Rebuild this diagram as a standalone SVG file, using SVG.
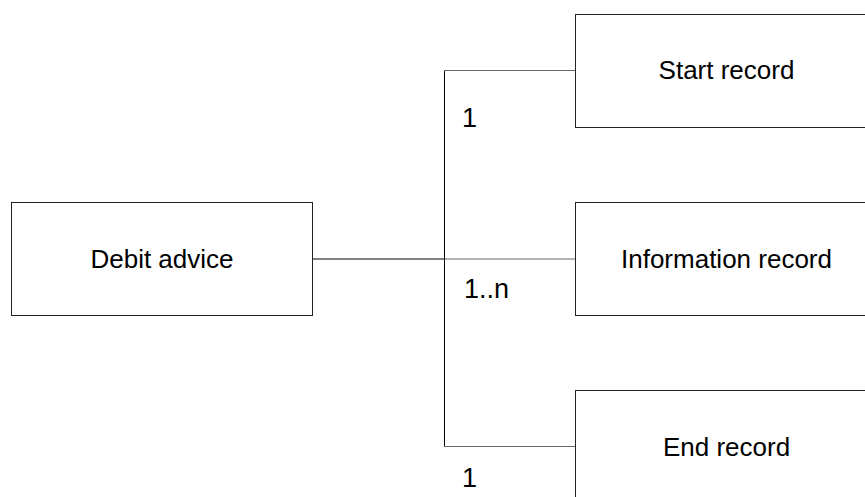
<svg xmlns="http://www.w3.org/2000/svg" width="865" height="497" viewBox="0 0 865 497">
<style>
.box{fill:#fff;stroke:#222;stroke-width:1}
.lbl{font-family:"Liberation Sans",Arial,sans-serif;font-size:26px;fill:#000;text-anchor:middle}
.mult{font-family:"Liberation Sans",Arial,sans-serif;font-size:27px;fill:#000}
.main{stroke:#000;stroke-width:1;fill:none}
.branch{stroke:#666;stroke-width:1;fill:none}
</style>
<rect width="865" height="497" fill="#fff"/>
<g id="connectors">
<line class="main" x1="312.5" y1="259" x2="444.5" y2="259"/>
<line class="main" x1="444.5" y1="70.5" x2="444.5" y2="446.5"/>
<line class="branch" x1="444.5" y1="259" x2="575.5" y2="259"/>
<line class="branch" x1="444.5" y1="70.5" x2="575.5" y2="70.5"/>
<line class="branch" x1="444.5" y1="446.5" x2="575.5" y2="446.5"/>
<text class="mult" x="462" y="126.5">1</text>
<text class="mult" x="464" y="298">1..n</text>
<text class="mult" x="462" y="487">1</text>
</g>
<g id="debit-advice">
<rect class="box" x="11.5" y="202.5" width="301" height="113"/>
<text class="lbl" x="162" y="268">Debit advice</text>
</g>
<g id="start-record">
<rect class="box" x="575.5" y="14.5" width="302" height="113"/>
<text class="lbl" x="726.5" y="79">Start record</text>
</g>
<g id="information-record">
<rect class="box" x="575.5" y="202.5" width="302" height="113"/>
<text class="lbl" x="726.5" y="268">Information record</text>
</g>
<g id="end-record">
<rect class="box" x="575.5" y="390.5" width="302" height="113"/>
<text class="lbl" x="726.5" y="455.5">End record</text>
</g>
</svg>
